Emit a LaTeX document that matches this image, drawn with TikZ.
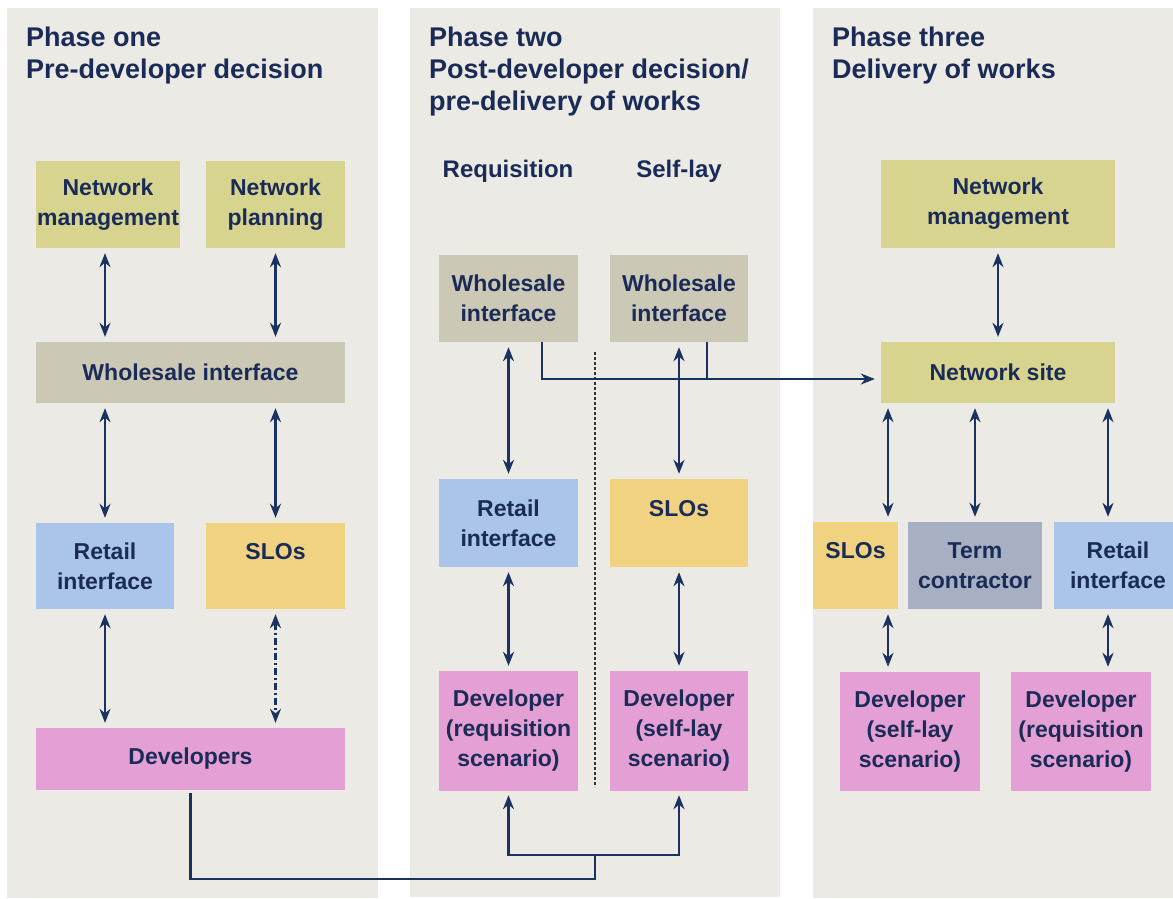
\documentclass[tikz,border=0pt]{standalone}
\usepackage{fontspec}
\setmainfont{Liberation Sans}
\usetikzlibrary{arrows.meta}

\definecolor{panelbg}{HTML}{EBEAE4}
\definecolor{navy}{HTML}{1B2B58}
\definecolor{arw}{HTML}{1A3260}
\definecolor{olive}{HTML}{D6D48E}
\definecolor{whsl}{HTML}{CCC8B6}
\definecolor{rtl}{HTML}{AAC4EA}
\definecolor{slo}{HTML}{F0D280}
\definecolor{dev}{HTML}{E4A0D4}
\definecolor{term}{HTML}{A6B0C2}

\newcommand{\boxfont}{\bfseries\fontsize{23}{30}\selectfont}
\newcommand{\headfont}{\bfseries\fontsize{27}{32}\selectfont}
\newcommand{\colfont}{\bfseries\fontsize{24}{30}\selectfont}

\begin{document}
\begin{tikzpicture}[x=1pt,y=-1pt,
	>={Stealth[length=14pt,width=11pt]},
	panel/.style={fill=panelbg,draw=none},
	head/.style={anchor=north west,inner sep=0pt,align=left,text=navy,font=\headfont},
	collabel/.style={inner sep=0pt,text=navy,font=\colfont},
	box/.style={inner sep=0pt,align=center,text=navy,font=\boxfont},
	link/.style={draw=arw,line width=2.6pt},
	both/.style={link,<->,shorten <=5pt,shorten >=5pt},
	divider/.style={draw=black!80,line width=1.6pt,dash pattern=on 3pt off 2pt}]
	\useasboundingbox (0,0) rectangle (1173,899);
	\clip (0,0) rectangle (1173,899);
	\fill[white] (0,0) rectangle (1173,899);
	% panels
	\fill[panel] (7,8) rectangle (378,898);
	\fill[panel] (410,8) rectangle (780,897);
	\fill[panel] (813,8) rectangle (1190,898);
	% Phase one
	\node[head] (t1) at (26,27) {Phase one\\Pre-developer decision};
	\node[box,fill=olive,minimum width=144,minimum height=87] (nm1) at (108,204.5) {Network\\management};
	\node[box,fill=olive,minimum width=139,minimum height=87] (np1) at (275.5,204.5) {Network\\planning};
	\node[box,fill=whsl,minimum width=309,minimum height=61] (wi1) at (190.5,372.5) {Wholesale interface};
	\node[box,fill=rtl,minimum width=138,minimum height=86] (ri1) at (105,566) {Retail\\interface};
	\node[box,fill=slo,minimum width=139,minimum height=86] (slo1) at (275.5,566) {SLOs\\\phantom{x}};
	\node[box,fill=dev,minimum width=309,minimum height=62] (dev1) at (190.5,759) {Developers};
	\draw[both] (nm1.south -| ri1) -- (wi1.north -| ri1);
	\draw[both] (np1.south -| slo1) -- (wi1.north -| slo1);
	\draw[both] (wi1.south -| ri1) -- (ri1.north);
	\draw[both] (wi1.south -| slo1) -- (slo1.north);
	\draw[both] (ri1.south) -- (dev1.north -| ri1);
	\draw[both,dash pattern=on 7pt off 3pt on 2pt off 3pt] (slo1.south) -- (dev1.north -| slo1);
	% Phase two
	\node[head] (t2) at (429,27) {Phase two\\Post-developer decision/\\pre-delivery of works};
	\node[collabel] (lreq) at (508,171) {Requisition};
	\node[collabel] (lself) at (679,171) {Self-lay};
	\node[box,fill=whsl,minimum width=139,minimum height=87] (wi2a) at (508.5,298.5) {Wholesale\\interface};
	\node[box,fill=whsl,minimum width=138,minimum height=87] (wi2b) at (679,298.5) {Wholesale\\interface};
	\node[box,fill=rtl,minimum width=139,minimum height=88] (ri2) at (508.5,523) {Retail\\interface};
	\node[box,fill=slo,minimum width=138,minimum height=88] (slo2) at (679,523) {SLOs\\\phantom{x}};
	\node[box,fill=dev,minimum width=139,minimum height=120] (dev2a) at (508.5,731) {Developer\\(requisition\\scenario)};
	\node[box,fill=dev,minimum width=138,minimum height=120] (dev2b) at (679,731) {Developer\\(self-lay\\scenario)};
	\draw[both] (wi2a.south) -- (ri2.north);
	\draw[both] (ri2.south) -- (dev2a.north);
	\draw[both] (wi2b.south) -- (slo2.north);
	\draw[both] (slo2.south) -- (dev2b.north);
	\draw[divider] (595,352) -- (595,787);
	% Phase three
	\node[head] (t3) at (832,27) {Phase three\\Delivery of works};
	\node[box,fill=olive,minimum width=234,minimum height=88] (nm3) at (998,204) {Network\\management};
	\node[box,fill=olive,minimum width=234,minimum height=61] (ns) at (998,372.5) {Network site};
	\node[box,fill=slo,minimum width=85,minimum height=87] (slo3) at (855.5,565.5) {SLOs\\\phantom{x}};
	\node[box,fill=term,minimum width=134,minimum height=87] (tc) at (975,565.5) {Term\\contractor};
	\node[box,fill=rtl,minimum width=128,minimum height=87] (ri3) at (1118,565.5) {Retail\\interface};
	\node[box,fill=dev,minimum width=140,minimum height=119] (devs3) at (910,731.5) {Developer\\(self-lay\\scenario)};
	\node[box,fill=dev,minimum width=140,minimum height=119] (devr3) at (1081,731.5) {Developer\\(requisition\\scenario)};
	\coordinate (colA) at (888,0);
	\coordinate (colC) at (1108,0);
	\draw[both] (nm3.south) -- (ns.north);
	\draw[both] (ns.south -| colA) -- (slo3.north -| colA);
	\draw[both] (ns.south -| tc) -- (tc.north);
	\draw[both] (ns.south -| colC) -- (ri3.north -| colC);
	\draw[both] (slo3.south -| colA) -- (devs3.north -| colA);
	\draw[both] (ri3.south -| colC) -- (devr3.north -| colC);
	% wholesale to network site
	\coordinate (tapA) at (542,379);
	\coordinate (tapB) at (707,379);
	\draw[link,->,shorten >=6pt] (wi2a.south -| tapA) -- (tapA) -- (ns.west |- tapA);
	\draw[link] (wi2b.south -| tapB) -- (tapB);
	% developers to phase two
	\coordinate (low) at (595,879);
	\coordinate (fork) at (595,855);
	\draw[link,shorten <=3pt] (dev1.south) |- (low) -- (fork);
	\draw[link,->,shorten >=4pt] (fork) -| (dev2a.south);
	\draw[link,->,shorten >=4pt] (fork) -| (dev2b.south);
\end{tikzpicture}
\end{document}
